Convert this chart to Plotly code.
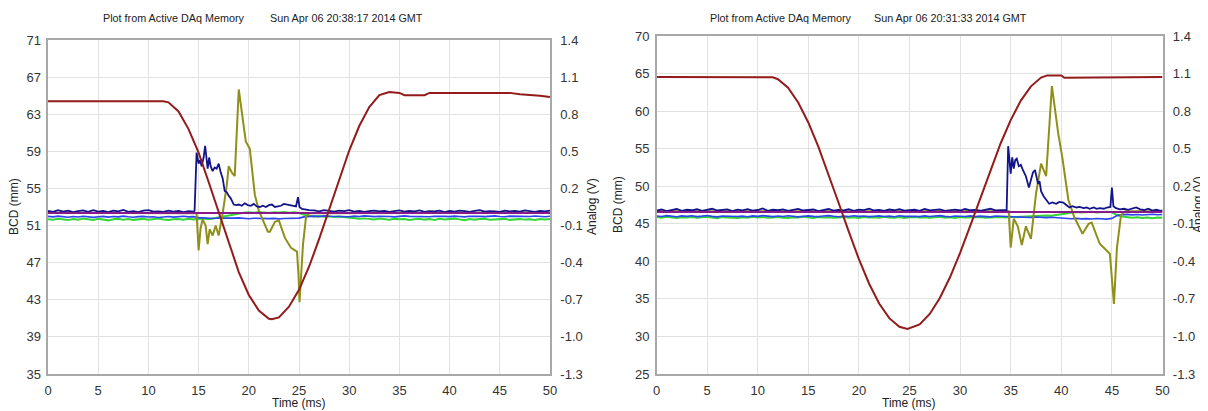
import plotly.graph_objects as go

# page body has an 8px margin; the figure is shrunk by it so that it fills the 1208x411 window
OFF = 8
W, H = 1208 - OFF, 411 - OFF

# ---------------- data: left chart (Sun Apr 06 20:38:17 2014) ----------------
# BCD position (mm)
bcdL_t = [0, 11.5, 12, 13, 14, 15, 16, 17, 18, 19, 20, 21, 22, 22.3, 23, 24, 25, 26, 27, 28, 29, 30,
          31, 32, 33, 34, 35, 35.5, 37.5, 38, 46, 47, 49, 50]
bcdL_v = [64.4, 64.4, 64.28, 63.3, 61.4, 58.85, 55.7, 52.4, 49.03, 45.98, 43.52, 41.83, 40.95, 40.9,
          41.1, 42.26, 44.07, 46.56, 49.53, 52.76, 56.03, 59.09, 61.73, 63.77, 65.06, 65.4, 65.3,
          65.05, 65.05, 65.3, 65.3, 65.15, 65.0, 64.85]

# analog channels (V)
navyL_pre = [0.018, 0.010, 0.024, 0.012, 0.020, 0.008, 0.016, 0.022, 0.011, 0.025, 0.013, 0.018,
             0.009, 0.021, 0.014, 0.027, 0.011, 0.017, 0.008, 0.020, 0.024, 0.012, 0.015, 0.010,
             0.021, 0.013, 0.019, 0.009, 0.016, 0.013]
navyL_evt_t = [14.6, 14.8, 15.0, 15.15, 15.3, 15.5, 15.65, 15.8, 15.9, 16.05, 16.2, 16.4, 16.6, 16.8,
               17.0, 17.2, 17.4, 17.6, 17.8, 18.0, 18.2, 18.5, 18.8, 19.0, 19.3, 19.6, 19.9, 20.2,
               20.5, 20.8, 21.1, 21.4, 21.7, 22.0, 22.3, 22.6, 22.9, 23.2, 23.5, 23.8, 24.1, 24.4,
               24.7, 24.9, 25.05, 25.3, 25.6, 26.0]
navyL_evt_v = [0.02, 0.49, 0.40, 0.43, 0.38, 0.45, 0.545, 0.40, 0.36, 0.45, 0.38, 0.34, 0.37, 0.36,
               0.40, 0.33, 0.28, 0.18, 0.17, 0.14, 0.12, 0.07, 0.065, 0.07, 0.06, 0.08, 0.065, 0.06,
               0.075, 0.055, 0.05, 0.06, 0.05, 0.065, 0.07, 0.05, 0.055, 0.06, 0.075, 0.07, 0.065,
               0.06, 0.055, 0.13, 0.05, 0.035, 0.03, 0.025]
navyL_post = [0.022, 0.015, 0.025, 0.018, 0.012, 0.020, 0.016, 0.024, 0.013, 0.019, 0.011, 0.017,
              0.021, 0.014, 0.018, 0.010, 0.016, 0.022, 0.012, 0.019, 0.015, 0.023, 0.011, 0.017,
              0.014, 0.020, 0.009, 0.018, 0.013, 0.021, 0.016, 0.011, 0.019, 0.024, 0.012, 0.017,
              0.015, 0.010, 0.020, 0.014, 0.018, 0.012, 0.022, 0.016, 0.011, 0.019, 0.015, 0.020]

purpleL_t = [0, 50]
purpleL_v = [0.001, 0.001]

blueL_v = [-0.026, -0.030, -0.024, -0.029, -0.033, -0.027, -0.031, -0.025, -0.028, -0.034, -0.029,
           -0.026, -0.032, -0.027, -0.030, -0.024, -0.029, -0.033, -0.028, -0.026, -0.031, -0.029,
           -0.035, -0.030, -0.027, -0.032, -0.028, -0.025, -0.030, -0.028,
           -0.036, -0.040, -0.038, -0.043, -0.039, -0.041, -0.044, -0.040, -0.038, -0.042, -0.045,
           -0.041, -0.043, -0.039, -0.044, -0.042, -0.046, -0.043, -0.041, -0.044, -0.040,
           -0.030, -0.026, -0.024, -0.028, -0.022, -0.025, -0.027, -0.023, -0.026, -0.029, -0.024,
           -0.027, -0.022, -0.026, -0.028, -0.025, -0.023, -0.027, -0.030, -0.025, -0.022, -0.026,
           -0.028, -0.024, -0.027, -0.029, -0.025, -0.023, -0.026, -0.028, -0.024, -0.027, -0.030,
           -0.025, -0.023, -0.026, -0.028, -0.025, -0.022, -0.027, -0.029, -0.024, -0.026, -0.028,
           -0.025, -0.027, -0.023, -0.026, -0.029, -0.025]

greenL_v = [-0.048, -0.053, -0.045, -0.050, -0.056, -0.047, -0.052, -0.044, -0.049, -0.055, -0.046,
            -0.051, -0.058, -0.049, -0.045, -0.052, -0.047, -0.054, -0.050, -0.046, -0.053, -0.048,
            -0.044, -0.051, -0.056, -0.049, -0.047, -0.052, -0.045, -0.050, -0.046, -0.043, -0.048,
            -0.040, -0.035, -0.028, -0.020,
            -0.010, -0.002, 0.004, 0.008, 0.003, 0.009, 0.006, 0.002, 0.008, 0.005, 0.010, 0.004,
            0.007, 0.002,
            -0.012, -0.020, -0.026, -0.022, -0.028, -0.025, -0.030, -0.027, -0.033, -0.036,
            -0.040, -0.045, -0.042, -0.048, -0.051, -0.044, -0.049, -0.053, -0.046, -0.050, -0.047,
            -0.055, -0.049, -0.045, -0.052, -0.048, -0.054, -0.046, -0.051, -0.049, -0.044, -0.050,
            -0.056, -0.047, -0.052, -0.048, -0.045, -0.053, -0.049, -0.051, -0.046, -0.054, -0.050,
            -0.047, -0.052, -0.049, -0.055, -0.048, -0.051, -0.047]

oliveL_t = [0, 14.7, 14.8, 15.0, 15.2, 15.4, 15.7, 15.9, 16.1, 16.4, 16.7, 17.0, 17.4, 17.8, 18.0,
            18.3, 18.6, 19.0, 19.3, 19.7, 20.1, 20.6, 21.0, 21.4, 21.9, 22.1, 22.6, 23.0, 23.6,
            24.2, 24.8, 24.95, 25.05, 25.4, 25.7, 26.0, 50]
oliveL_v = [0.004, 0.004, 0.0, -0.30, -0.12, -0.05, -0.10, -0.25, -0.13, -0.18, -0.10, -0.18, 0.0,
            0.22, 0.38, 0.33, 0.30, 1.0, 0.80, 0.58, 0.52, 0.15, 0.02, -0.05, -0.15, -0.15, -0.07,
            -0.06, -0.20, -0.28, -0.31, -0.50, -0.72, -0.25, -0.03, 0.0, 0.004]

# ---------------- data: right chart (Sun Apr 06 20:31:33 2014) ----------------
bcdR_t = [0, 11, 11.5, 12, 13, 14, 15, 16, 17, 18, 19, 20, 21, 22, 23, 24, 24.8, 26, 27, 28, 29, 30,
          31, 32, 33, 34, 35, 36, 37, 38, 38.6, 40.0, 40.3, 42.0, 42.3, 50]
bcdR_v = [64.55, 64.55, 64.5, 64.25, 63.12, 61.15, 58.49, 55.25, 51.59, 47.77, 43.95, 40.29, 37.05,
          34.39, 32.43, 31.29, 31.0, 31.6, 32.99, 35.12, 37.88, 41.12, 44.72, 48.47, 52.19, 55.69,
          58.8, 61.4, 63.3, 64.46, 64.75, 64.75, 64.45, 64.45, 64.55, 64.55]

navyR_pre = [0.006, 0.014, 0.002, 0.010, 0.018, 0.004, 0.012, 0.008, 0.016, 0.003,
             0.011, 0.020, 0.006, 0.009, 0.015, 0.002, 0.013, 0.007, 0.017, 0.005,
             0.010, 0.022, 0.004, 0.012, 0.008, 0.015, 0.003, 0.011, 0.019, 0.006,
             0.009, 0.014, 0.002, 0.012, 0.018, 0.005, 0.010, 0.007, 0.016, 0.004,
             0.013, 0.009, 0.021, 0.006, 0.011, 0.003, 0.014, 0.008, 0.017, 0.005,
             0.010, 0.012, 0.004, 0.019, 0.007, 0.011, 0.015, 0.003, 0.009, 0.013,
             0.006, 0.018, 0.008, 0.011, 0.004, 0.014, 0.020, 0.007, 0.010, 0.012]
navyR_evt_t = [34.6, 34.75, 34.9, 35.0, 35.15, 35.3, 35.45, 35.6, 35.8, 36.0, 36.2, 36.5, 36.8, 37.0,
               37.2, 37.4, 37.55, 37.7, 37.85, 38.0, 38.25, 38.5, 38.8, 39.1, 39.5, 39.8, 40.2,
               40.5, 40.8, 41.1, 41.5, 41.8, 42.2, 42.5, 42.8, 43.2, 43.5, 43.8, 44.2, 44.5, 44.85,
               45.0, 45.15, 45.4, 45.8, 46.2, 46.6, 47.0, 47.4, 47.8, 48.2, 48.6, 49.0, 49.4, 49.8,
               50.0]
navyR_evt_v = [0.01, 0.52, 0.35, 0.30, 0.43, 0.34, 0.41, 0.42, 0.36, 0.37, 0.33, 0.28, 0.19, 0.26,
               0.31, 0.33, 0.27, 0.22, 0.24, 0.16, 0.12, 0.09, 0.06, 0.07, 0.06, 0.075, 0.07, 0.05,
               0.03, 0.04, 0.03, 0.035, 0.025, 0.03, 0.02, 0.03, 0.02, 0.025, 0.02, 0.03, 0.035,
               0.19, 0.04, 0.025, 0.015, 0.02, 0.012, 0.022, 0.03, 0.015, 0.01, 0.02, 0.005, 0.012,
               0.004, 0.008]

purpleR_t = [0, 50]
purpleR_v = [-0.005, -0.005]

blueR_v = [-0.038, -0.042, -0.035, -0.040, -0.044, -0.037, -0.041, -0.036, -0.043, -0.039, -0.034,
           -0.041, -0.045, -0.038, -0.040, -0.036, -0.042, -0.039, -0.044, -0.037, -0.041, -0.035,
           -0.040, -0.043, -0.038, -0.042, -0.036, -0.039, -0.045, -0.040, -0.037, -0.041, -0.043,
           -0.038, -0.035, -0.040, -0.044, -0.039, -0.042, -0.036, -0.041, -0.038, -0.043, -0.040,
           -0.037, -0.042, -0.039, -0.044, -0.036, -0.041, -0.038, -0.040, -0.043, -0.037, -0.042,
           -0.039, -0.035, -0.041, -0.044, -0.038, -0.040, -0.042, -0.037, -0.043, -0.039, -0.041,
           -0.045, -0.038, -0.040, -0.042,
           -0.045, -0.048, -0.044, -0.047, -0.050, -0.046, -0.049, -0.051, -0.048, -0.052,
           -0.055, -0.058, -0.060, -0.057, -0.061, -0.059, -0.062, -0.058, -0.060, -0.063, -0.057,
           -0.035, -0.028, -0.025, -0.029, -0.026, -0.030, -0.027, -0.024, -0.028, -0.026]

greenR_v = [-0.046, -0.051, -0.044, -0.049, -0.054, -0.047, -0.050, -0.045, -0.052, -0.048, -0.043,
            -0.050, -0.055, -0.047, -0.049, -0.045, -0.053, -0.048, -0.051, -0.044, -0.050, -0.046,
            -0.052, -0.049, -0.045, -0.051, -0.054, -0.047, -0.050, -0.044, -0.048, -0.053, -0.046,
            -0.050, -0.047, -0.052, -0.049, -0.045, -0.051, -0.048, -0.054, -0.046, -0.050, -0.047,
            -0.052, -0.044, -0.049, -0.051, -0.046, -0.053, -0.048, -0.045, -0.050, -0.047, -0.052,
            -0.049, -0.044, -0.051, -0.048, -0.053, -0.046, -0.050, -0.047, -0.049, -0.045, -0.052,
            -0.048, -0.050, -0.046, -0.049, -0.044, -0.047, -0.045,
            -0.042, -0.038, -0.035, -0.037, -0.033, -0.036, -0.030, -0.026,
            -0.015, -0.008, -0.005, -0.010, -0.006, -0.004, -0.009, -0.006, -0.003, -0.008,
            -0.030, -0.042, -0.048, -0.052, -0.047, -0.053, -0.049, -0.055, -0.050, -0.052]

oliveR_t = [0, 34.7, 34.8, 35.0, 35.3, 35.7, 36.1, 36.5, 37.0, 37.5, 38.0, 38.5, 39.07, 39.7, 40.1,
            40.7, 41.3, 42.1, 42.7, 43.0, 43.8, 44.8, 45.2, 45.5, 45.9, 46.3, 50]
oliveR_v = [0.0, 0.0, 0.0, -0.29, -0.06, -0.12, -0.27, -0.12, -0.22, 0.14, 0.38, 0.28, 1.0, 0.62,
            0.43, 0.09, -0.05, -0.18, -0.10, -0.09, -0.26, -0.34, -0.74, -0.29, -0.03, 0.0, 0.0]

# tick labels of the analog axes (plain hyphen minus, as in the original)
analog_ticks = [-1.3, -1.0, -0.7, -0.4, -0.1, 0.2, 0.5, 0.8, 1.1, 1.4]
analog_labels = ["-1.3", "-1.0", "-0.7", "-0.4", "-0.1", "0.2", "0.5", "0.8", "1.1", "1.4"]

titles_L = ["Plot from Active DAq Memory", "Sun Apr 06 20:38:17 2014 GMT"]
titles_R = ["Plot from Active DAq Memory", "Sun Apr 06 20:31:33 2014 GMT"]

# ---------------- helpers ----------------
def grid(start, n):
    return [start + 0.5 * i for i in range(n)]

navyL_t = grid(0, len(navyL_pre)) + navyL_evt_t + grid(26.5, len(navyL_post))
navyL_v = navyL_pre + navyL_evt_v + navyL_post
navyR_t = grid(0, len(navyR_pre)) + navyR_evt_t
navyR_v = navyR_pre + navyR_evt_v

C_RED = "#931b1b"
C_NAVY = "#13138c"
C_BLUE = "#2b45f0"
C_GREEN = "#33d633"
C_PURPLE = "#8a1a8a"
C_OLIVE = "#8f8f1a"

fig = go.Figure()

def add_chart(xa, ya_an, ya_bcd, navy, blue_v, green_v, purple, olive, bcd):
    fig.add_trace(go.Scatter(x=grid(0, len(green_v)), y=green_v, xaxis=xa, yaxis=ya_an, mode="lines",
                             line=dict(color=C_GREEN, width=2), hoverinfo="skip"))
    fig.add_trace(go.Scatter(x=grid(0, len(blue_v)), y=blue_v, xaxis=xa, yaxis=ya_an, mode="lines",
                             line=dict(color=C_BLUE, width=1.6), hoverinfo="skip"))
    fig.add_trace(go.Scatter(x=olive[0], y=olive[1], xaxis=xa, yaxis=ya_an, mode="lines",
                             line=dict(color=C_OLIVE, width=2), hoverinfo="skip"))
    fig.add_trace(go.Scatter(x=navy[0], y=navy[1], xaxis=xa, yaxis=ya_an, mode="lines",
                             line=dict(color=C_NAVY, width=1.8), hoverinfo="skip"))
    fig.add_trace(go.Scatter(x=purple[0], y=purple[1], xaxis=xa, yaxis=ya_an, mode="lines",
                             line=dict(color=C_PURPLE, width=2), hoverinfo="skip"))
    fig.add_trace(go.Scatter(x=bcd[0], y=bcd[1], xaxis=xa, yaxis=ya_bcd, mode="lines",
                             line=dict(color=C_RED, width=2), hoverinfo="skip"))

add_chart("x", "y", "y2", (navyL_t, navyL_v), blueL_v, greenL_v, (purpleL_t, purpleL_v),
          (oliveL_t, oliveL_v), (bcdL_t, bcdL_v))
add_chart("x2", "y3", "y4", (navyR_t, navyR_v), blueR_v, greenR_v, (purpleR_t, purpleR_v),
          (oliveR_t, oliveR_v), (bcdR_t, bcdR_v))

TICKFONT = dict(family="Liberation Sans, Arial, sans-serif", size=13, color="#333333")
LINE = "#a8a8a8"
GRID = "#e2e2e2"

# screen pixel (in the 1208x411 window) -> paper fraction
def px(x):
    return (x - OFF) / W

def py(y):
    return 1 - (y - OFF) / H

xcommon = dict(range=[0, 50], tick0=0, dtick=5, showgrid=True, gridcolor=GRID, gridwidth=1,
               showline=True, linecolor=LINE, linewidth=1.5, mirror=True, ticks="",
               tickfont=TICKFONT, zeroline=False, fixedrange=True, ticklabelstandoff=4,
               automargin=False)
an_common = dict(range=[-1.3, 1.4], tickmode="array", tickvals=analog_ticks,
                 ticktext=analog_labels, side="right",
                 showgrid=True, gridcolor=GRID, gridwidth=1, showline=True, linecolor=LINE,
                 linewidth=1.5, mirror=True, ticks="", tickfont=TICKFONT, zeroline=False,
                 ticklabelstandoff=6, automargin=False)

fig.update_layout(
    width=W, height=H, margin=dict(l=0, r=0, t=0, b=0, autoexpand=False),
    paper_bgcolor="white", plot_bgcolor="white", showlegend=False,
    xaxis=dict(domain=[px(48), px(550)], anchor="y", **xcommon),
    yaxis=dict(domain=[py(374), py(40)], anchor="x", **an_common),
    yaxis2=dict(overlaying="y", side="left", anchor="x", range=[35, 71], tick0=35, dtick=4,
                showgrid=False, showline=False, ticks="", tickfont=TICKFONT, zeroline=False,
                ticklabelstandoff=6, automargin=False),
    xaxis2=dict(domain=[px(656.5), px(1162.5)], anchor="y3", **xcommon),
    yaxis3=dict(domain=[py(374), py(36)], anchor="x2", **an_common),
    yaxis4=dict(overlaying="y3", side="left", anchor="x2", range=[25, 70], tick0=25, dtick=5,
                showgrid=False, showline=False, ticks="", tickfont=TICKFONT, zeroline=False,
                ticklabelstandoff=6, automargin=False),
)

TFONT = dict(family="Liberation Sans, Arial, sans-serif", size=10.8, color="#222222")
AFONT = dict(family="Liberation Sans, Arial, sans-serif", size=12, color="#222222")

ann = []
for xs, texts in (((101, 268), titles_L), ((708, 872), titles_R)):
    for x0, t in zip(xs, texts):
        ann.append(dict(x=px(x0), y=py(18), xref="paper", yref="paper", text=t, showarrow=False,
                        xanchor="left", yanchor="middle", font=TFONT))
for x0, y0, t, ang in ((14, 207, "BCD (mm)", -90), (592, 207, "Analog (V)", -90),
                       (299, 403, "Time (ms)", 0), (618, 205, "BCD (mm)", -90),
                       (1198, 205, "Analog (V)", -90), (909, 403, "Time (ms)", 0)):
    ann.append(dict(x=px(x0), y=py(y0), xref="paper", yref="paper", text=t, showarrow=False,
                    xanchor="center", yanchor="middle", textangle=ang, font=AFONT))
fig.update_layout(annotations=ann)

fig.write_html("out.html")
